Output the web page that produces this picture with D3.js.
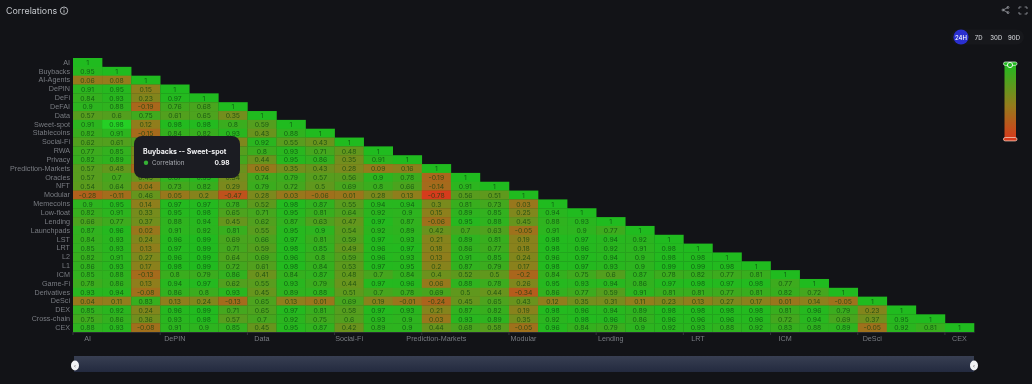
<!DOCTYPE html>
<html><head><meta charset="utf-8">
<script src="https://cdn.jsdelivr.net/npm/d3@7/dist/d3.min.js"></script>
<style>
html,body{margin:0;padding:0;background:#121317;overflow:hidden}
svg{display:block;font-family:Inter,"Open Sans",sans-serif;filter:blur(0.4px)}
</style></head><body><svg id="c" width="1032" height="384"></svg>
<script>
const categories=["AI","Buybacks","AI-Agents","DePIN","DeFi","DeFAI","Data","Sweet-spot","Stablecoins","Social-Fi","RWA","Privacy","Prediction-Markets","Oracles","NFT","Modular","Memecoins","Low-float","Lending","Launchpads","LST","LRT","L2","L1","ICM","Game-Fi","Derivatives","DeSci","DEX","Cross-chain","CEX"];
const xTickLabels=["AI","DePIN","Data","Social-Fi","Prediction-Markets","Modular","Lending","LRT","ICM","DeSci","CEX"];
const periods=["24H","7D","30D","90D"];
const correlations=[
[1],
[0.95,1],
[0.06,0.08,1],
[0.91,0.95,0.15,1],
[0.84,0.93,0.23,0.97,1],
[0.9,0.88,-0.19,0.76,0.68,1],
[0.57,0.6,0.75,0.61,0.65,0.35,1],
[0.91,0.98,0.12,0.98,0.98,0.8,0.59,1],
[0.82,0.91,-0.15,0.84,0.82,0.93,0.43,0.88,1],
[0.62,0.61,0.62,0.65,0.71,0.26,0.92,0.55,0.43,1],
[0.77,0.85,0.3,0.9,0.95,0.58,0.8,0.93,0.71,0.48,1],
[0.82,0.89,0.2,0.93,0.94,0.72,0.44,0.95,0.86,0.35,0.91,1],
[0.57,0.48,-0.2,0.3,0.2,0.42,0.06,0.35,0.43,0.28,0.09,0.16,1],
[0.57,0.7,0.45,0.87,0.93,0.34,0.74,0.79,0.57,0.56,0.9,0.78,-0.19,1],
[0.54,0.64,0.04,0.73,0.82,0.29,0.79,0.72,0.5,0.69,0.8,0.66,-0.14,0.91,1],
[-0.28,-0.11,0.46,0.05,0.2,-0.47,0.28,0.03,-0.06,0.01,0.28,0.13,-0.78,0.56,0.51,1],
[0.9,0.95,0.14,0.97,0.97,0.78,0.52,0.98,0.87,0.55,0.94,0.94,0.3,0.81,0.73,0.03,1],
[0.82,0.91,0.33,0.95,0.98,0.65,0.71,0.95,0.81,0.64,0.92,0.9,0.15,0.89,0.85,0.25,0.94,1],
[0.66,0.77,0.37,0.88,0.94,0.45,0.62,0.87,0.63,0.47,0.97,0.87,-0.06,0.95,0.88,0.45,0.88,0.93,1],
[0.87,0.96,0.02,0.91,0.92,0.81,0.55,0.95,0.9,0.54,0.92,0.89,0.42,0.7,0.63,-0.05,0.91,0.9,0.77,1],
[0.84,0.93,0.24,0.96,0.99,0.69,0.66,0.97,0.81,0.59,0.97,0.93,0.21,0.89,0.81,0.19,0.98,0.97,0.94,0.92,1],
[0.85,0.93,0.13,0.97,0.99,0.71,0.59,0.98,0.85,0.49,0.96,0.97,0.18,0.86,0.77,0.18,0.98,0.96,0.92,0.91,0.98,1],
[0.82,0.91,0.27,0.96,0.99,0.64,0.69,0.96,0.8,0.59,0.96,0.93,0.13,0.91,0.85,0.24,0.96,0.97,0.94,0.9,0.98,0.98,1],
[0.86,0.93,0.17,0.98,0.99,0.72,0.61,0.98,0.84,0.53,0.97,0.95,0.2,0.87,0.79,0.17,0.98,0.97,0.93,0.9,0.99,0.99,0.98,1],
[0.85,0.88,-0.13,0.8,0.79,0.86,0.41,0.84,0.87,0.48,0.7,0.84,0.4,0.52,0.5,-0.2,0.84,0.75,0.6,0.87,0.78,0.82,0.77,0.81,1],
[0.78,0.86,0.13,0.94,0.97,0.62,0.55,0.93,0.79,0.44,0.97,0.96,0.06,0.88,0.78,0.26,0.95,0.93,0.94,0.86,0.97,0.98,0.97,0.98,0.77,1],
[0.93,0.94,-0.08,0.86,0.8,0.93,0.45,0.89,0.88,0.51,0.7,0.78,0.69,0.5,0.44,-0.34,0.86,0.77,0.59,0.91,0.81,0.81,0.77,0.81,0.82,0.72,1],
[0.04,0.11,0.83,0.13,0.24,-0.13,0.65,0.13,0.01,0.69,0.19,-0.01,-0.24,0.45,0.65,0.43,0.12,0.35,0.31,0.11,0.23,0.13,0.27,0.17,0.01,0.14,-0.05,1],
[0.85,0.92,0.24,0.96,0.99,0.71,0.65,0.97,0.81,0.58,0.97,0.93,0.21,0.87,0.82,0.19,0.98,0.96,0.94,0.89,0.98,0.98,0.98,0.98,0.81,0.96,0.79,0.23,1],
[0.75,0.86,0.36,0.93,0.98,0.57,0.7,0.92,0.75,0.6,0.93,0.9,0.03,0.93,0.89,0.35,0.92,0.98,0.96,0.86,0.96,0.96,0.96,0.96,0.72,0.94,0.69,0.37,0.95,1],
[0.88,0.93,-0.08,0.91,0.9,0.85,0.45,0.95,0.87,0.42,0.89,0.9,0.44,0.68,0.58,-0.05,0.96,0.84,0.79,0.9,0.92,0.93,0.88,0.92,0.83,0.88,0.89,-0.05,0.92,0.81,1]
];
const hovered={row:"Sweet-spot",col:"Buybacks",value:0.98};
const colorStops=[-0.8,0.1,1];
const colorRange=["#d83a1c","#937c1c","#20bb1f"];
const tipRows=["Social-Fi","RWA","Privacy","Prediction-Markets"];
const tipCols=["AI-Agents","DePIN","DeFi","DeFAI"];

const svg=d3.select("#c");
const x=d3.scaleBand().domain(categories).range([73,974]);
const y=d3.scaleBand().domain(categories).range([58,332]);
const color=d3.scaleLinear().domain(colorStops).range(colorRange).clamp(true);
const cells=correlations.flatMap((r,i)=>r.map((v,j)=>({row:categories[i],col:categories[j],v})));

const g=svg.append("g");
g.selectAll("rect").data(cells).join("rect")
 .attr("x",d=>x(d.col)).attr("y",d=>y(d.row))
 .attr("width",x.bandwidth()+0.3).attr("height",y.bandwidth()+0.3)
 .attr("fill",d=>d.row===hovered.row&&d.col===hovered.col?"#25cf25":color(d.v));
// values that sit fully behind the tooltip are not drawn as text
g.selectAll("text").data(cells.filter(d=>!(tipRows.includes(d.row)&&tipCols.includes(d.col)))).join("text")
 .attr("x",d=>x(d.col)+x.bandwidth()/2).attr("y",d=>y(d.row)+y.bandwidth()/2+0.3)
 .attr("text-anchor","middle").attr("dominant-baseline","central")
 .attr("font-size",6.8).attr("fill","rgba(8,62,14,.72)")
 .text(d=>d.v);

const ay=svg.append("g").attr("transform","translate(73,0)")
 .call(d3.axisLeft(y).tickSize(0).tickPadding(3));
ay.select(".domain").remove();
ay.selectAll("text").attr("font-size",7.2).attr("font-family","inherit").attr("fill","#797c82");

const ax=svg.append("g").attr("transform","translate(0,332)")
 .call(d3.axisBottom(x).tickValues(xTickLabels).tickSize(0).tickPadding(3.5));
ax.select(".domain").attr("stroke","#2a2c32");
ax.selectAll("text").attr("font-size",7.2).attr("font-family","inherit").attr("fill","#797c82");
ax.selectAll(".tick").append("line").attr("stroke","#34363c")
 .attr("x1",-x.bandwidth()/2).attr("x2",-x.bandwidth()/2).attr("y1",0).attr("y2",3);

// header
svg.append("text").attr("x",6).attr("y",13.6).attr("font-size",8.9).attr("fill","#c4c7cc").text("Correlations");
const info=svg.append("g").attr("transform","translate(64,10.7)");
info.append("circle").attr("r",3.7).attr("fill","none").attr("stroke","#c4c7cc").attr("stroke-width",.9);
info.append("line").attr("y1",-.6).attr("y2",2).attr("stroke","#c4c7cc").attr("stroke-width",.9);
info.append("circle").attr("cy",-1.9).attr("r",.55).attr("fill","#c4c7cc");

// share + fullscreen icons
const share=svg.append("g").attr("transform","translate(1005,10)").attr("stroke","#9a9da3").attr("stroke-width",.8).attr("fill","none");
share.append("path").attr("d","M3,-2.6L-2,0L3,2.6");
share.append("circle").attr("cx",3).attr("cy",-2.6).attr("r",1);
share.append("circle").attr("cx",3).attr("cy",2.6).attr("r",1);
share.append("circle").attr("cx",-2).attr("cy",0).attr("r",1);
svg.append("path").attr("fill","none").attr("stroke","#9a9da3").attr("stroke-width",.8)
 .attr("d","M1019,9V7h2.4M1024.6,7H1027V9M1027,12v2h-2.4M1021.4,14H1019v-2");

// period selector
svg.append("rect").attr("x",951).attr("y",29.5).attr("width",73).attr("height",15).attr("rx",7.5).attr("fill","#17181c");
const px=d3.scalePoint().domain(periods).range([961,1014]);
svg.append("circle").attr("cx",px("24H")).attr("cy",37).attr("r",7.6).attr("fill","#2a2fd0");
svg.selectAll(".p").data(periods).join("text").attr("class","p")
 .attr("x",d=>px(d)).attr("y",37).attr("text-anchor","middle").attr("dominant-baseline","central")
 .attr("font-size",6).attr("font-weight",500).attr("fill",d=>d==="24H"?"#fff":"#cfd1d5").text(d=>d);

// visual map
const defs=svg.append("defs");
const lg=defs.append("linearGradient").attr("id","vm").attr("x1",0).attr("x2",0).attr("y1",0).attr("y2",1);
lg.append("stop").attr("offset","0").attr("stop-color",colorRange[2]);
lg.append("stop").attr("offset","0.55").attr("stop-color",colorRange[1]);
lg.append("stop").attr("offset","1").attr("stop-color",colorRange[0]);
svg.append("rect").attr("x",1004.5).attr("y",64).attr("width",11.5).attr("height",75).attr("fill","url(#vm)");
svg.append("rect").attr("x",1003.5).attr("y",62).attr("width",13.5).attr("height",3.4).attr("rx",1.7).attr("fill","#20bb1f").attr("stroke","#cfe8cf").attr("stroke-width",.8);
svg.append("circle").attr("cx",1010).attr("cy",65).attr("r",2.6).attr("fill","#20bb1f").attr("stroke","#e6f5e6").attr("stroke-width",1);
svg.append("rect").attr("x",1003.5).attr("y",137.5).attr("width",13.5).attr("height",3.4).attr("rx",1.7).attr("fill","#d83a1c").attr("stroke","#f0c8b8").attr("stroke-width",.8);

// slider
const sg=defs.append("linearGradient").attr("id","sl").attr("x1",0).attr("x2",0).attr("y1",0).attr("y2",1);
sg.append("stop").attr("offset","0").attr("stop-color","#383f52");
sg.append("stop").attr("offset","1").attr("stop-color","#232a3f");
svg.append("rect").attr("x",74).attr("y",356).attr("width",900).attr("height",16).attr("fill","url(#sl)");
[75,974].forEach(cx=>{
 svg.append("ellipse").attr("cx",cx).attr("cy",365.5).attr("rx",4).attr("ry",5).attr("fill","#f2f3f5");
 svg.append("text").attr("x",cx).attr("y",365.5).attr("text-anchor","middle").attr("dominant-baseline","central").attr("font-size",5).attr("fill","#555").text("‹");
});

// tooltip
const t=svg.append("g");
t.append("rect").attr("x",134).attr("y",136).attr("width",106).attr("height",42).attr("rx",8).attr("fill","#1b1c22");
t.append("text").attr("x",143).attr("y",153.5).attr("font-size",7).attr("font-weight",700).attr("fill","#f2f2f4").text(hovered.col+" -- "+hovered.row);
t.append("circle").attr("cx",146).attr("cy",162.8).attr("r",2.2).attr("fill","#35b135");
t.append("text").attr("x",152).attr("y",165).attr("font-size",6.2).attr("fill","#a8abb1").text("Correlation");
t.append("text").attr("x",229.5).attr("y",165).attr("text-anchor","end").attr("font-size",6.6).attr("font-weight",700).attr("fill","#f2f2f4").text(hovered.value);
</script></body></html>
